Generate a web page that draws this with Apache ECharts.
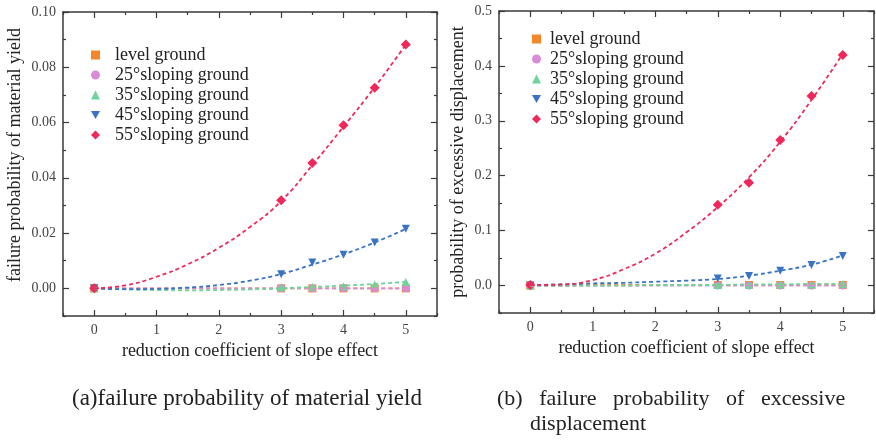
<!DOCTYPE html>
<html>
<head>
<meta charset="utf-8">
<script src="https://cdn.jsdelivr.net/npm/echarts@6/dist/echarts.min.js"></script>
<style>
  html, body { margin: 0; padding: 0; background: #fff; }
  #chart { width: 876px; height: 440px; }
</style>
</head>
<body>
<div id="chart"></div>
<script>
// measured x positions of the markers and of the fitted curves
const xPts = [0, 3, 3.5, 4, 4.5, 5];
const fitX = [0, 0.5, 1, 1.5, 2, 2.5, 3, 3.5, 4, 4.5, 5];

const names = ['level ground', '25°sloping ground', '35°sloping ground', '45°sloping ground', '55°sloping ground'];
const colors = ['#f5862a', '#d98bd6', '#6fd39a', '#3a73c4', '#f0285a'];
const symbols = ['rect', 'circle', 'triangle', 'path://M0,0 L10,0 L5,9 Z', 'diamond'];

// (a) material yield
const aLevel = [0, 0, 0, 0, 0, 0];
const a25 = [0, 0, 0, 0, 0, 0];
const a35 = [0, 0.0004, 0.0006, 0.0008, 0.0014, 0.0023];
const a45 = [0, 0.0051, 0.0094, 0.0122, 0.0166, 0.0216];
const a55 = [0, 0.0319, 0.0454, 0.059, 0.0726, 0.0882];

const aLevelFit = [0, 0, 0, 0, 0, 0, 0, 0, 0, 0, 0];
const a25Fit = [0, 0, 0, 0, 0, 0, 0, 0, 0, 0, 0];
const a35Fit = [0, -0.0004, -0.0006, -0.0007, -0.0006, -0.0004, 0, 0.0005, 0.001, 0.0016, 0.0024];
const a45Fit = [0, -0.0003, -0.0002, 0.0003, 0.0012, 0.0028, 0.0052, 0.0086, 0.0123, 0.0166, 0.0215];
const a55Fit = [0, 0.0011, 0.0042, 0.0087, 0.0147, 0.0222, 0.0316, 0.0446, 0.0585, 0.0728, 0.0882];

// (b) excessive displacement
const bLevel = [0, 0.001, 0.001, 0.001, 0.001, 0.001];
const b25 = [0, 0, 0, 0, 0, 0];
const b35 = [0, 0.001, 0.001, 0.002, 0.002, 0.003];
const b45 = [0, 0.013, 0.0175, 0.027, 0.0375, 0.054];
const b55 = [0.001, 0.147, 0.187, 0.265, 0.345, 0.42];

const bLevelFit = [0, 0, 0.001, 0.001, 0.001, 0.001, 0.001, 0.001, 0.001, 0.001, 0.001];
const b25Fit = [0, 0, 0, 0, 0, 0, 0, 0, 0, 0, 0];
const b35Fit = [0, 0, 0, 0, 0.001, 0.001, 0.001, 0.002, 0.002, 0.003, 0.003];
const b45Fit = [0.001, 0.002, 0.004, 0.005, 0.007, 0.009, 0.012, 0.018, 0.027, 0.038, 0.055];
const b55Fit = [0.001, 0.002, 0.01, 0.03, 0.058, 0.097, 0.143, 0.197, 0.262, 0.338, 0.422];

// tick positions
const xMajor = [0, 1, 2, 3, 4, 5];
const xMinor = [-0.5, 0.5, 1.5, 2.5, 3.5, 4.5, 5.5];
const aMajor = [0, 0.02, 0.04, 0.06, 0.08, 0.1];
const aMinor = [-0.01, 0.01, 0.03, 0.05, 0.07, 0.09];
const bMajor = [0, 0.1, 0.2, 0.3, 0.4, 0.5];
const bMinor = [-0.05, 0.05, 0.15, 0.25, 0.35, 0.45];

const serif = 'Liberation Serif';
const lineColor = '#3a3a3a';

function makeAxis(grid, position, min, max, ticks, len, showLine, label, name) {
  const ax = {
    type: 'value', gridIndex: grid, position: position, min: min, max: max,
    axisLine: { show: showLine, onZero: false, lineStyle: { color: lineColor, width: 1.5 } },
    axisTick: { show: true, inside: true, length: len, customValues: ticks, lineStyle: { color: lineColor, width: 1.2 } },
    axisLabel: { show: false },
    splitLine: { show: false }
  };
  if (label) {
    ax.axisLabel = {
      show: true, customValues: ticks, formatter: label, margin: 7,
      fontFamily: serif, fontSize: 14, color: '#444'
    };
  }
  if (name) {
    ax.name = name.text;
    ax.nameLocation = 'middle';
    ax.nameGap = name.gap;
    ax.nameTextStyle = { fontFamily: serif, fontSize: 18, color: '#222', padding: name.pad || 0 };
  }
  return ax;
}

const xName = 'reduction coefficient of slope effect';
const xAxes = [];
const yAxes = [];
[0, 1].forEach(function (g) {
  xAxes.push(makeAxis(g, 'bottom', -0.5, 5.5, xMajor, 6, true, function (v) { return String(v); }, { text: xName, gap: g === 0 ? 25 : 26 }));
  xAxes.push(makeAxis(g, 'bottom', -0.5, 5.5, xMinor, 3, false));
  xAxes.push(makeAxis(g, 'top', -0.5, 5.5, xMajor, 6, true));
  xAxes.push(makeAxis(g, 'top', -0.5, 5.5, xMinor, 3, false));
});
yAxes.push(makeAxis(0, 'left', -0.01, 0.1, aMajor, 6, true, function (v) { return v.toFixed(2); },
  { text: 'failure probability of material yield', gap: 39, pad: [0, 0, 0, 18] }));
yAxes.push(makeAxis(0, 'left', -0.01, 0.1, aMinor, 3, false));
yAxes.push(makeAxis(0, 'right', -0.01, 0.1, aMajor, 6, true));
yAxes.push(makeAxis(0, 'right', -0.01, 0.1, aMinor, 3, false));
yAxes.push(makeAxis(1, 'left', -0.05, 0.5, bMajor, 6, true, function (v) { return v.toFixed(1); },
  { text: 'probability of excessive displacement', gap: 32 }));
yAxes.push(makeAxis(1, 'left', -0.05, 0.5, bMinor, 3, false));
yAxes.push(makeAxis(1, 'right', -0.05, 0.5, bMajor, 6, true));
yAxes.push(makeAxis(1, 'right', -0.05, 0.5, bMinor, 3, false));

function pairs(xs, ys) {
  return xs.map(function (x, i) { return [x, ys[i]]; });
}

const series = [];
function addPanel(grid, pts, fits) {
  const xi = grid * 4;
  const yi = grid * 4;
  fits.forEach(function (f, i) {
    series.push({
      name: names[i] + ' fit', type: 'line', xAxisIndex: xi, yAxisIndex: yi,
      data: pairs(fitX, f), smooth: true, symbol: 'none', silent: true,
      lineStyle: { color: colors[i], width: 1.8, type: [4, 3] }
    });
  });
  pts.forEach(function (p, i) {
    series.push({
      name: names[i], type: 'scatter', xAxisIndex: xi, yAxisIndex: yi,
      data: pairs(xPts, p), symbol: symbols[i], symbolSize: i === 4 ? 10 : 8,
      itemStyle: { color: colors[i], opacity: 1 }
    });
  });
}
addPanel(0, [aLevel, a25, a35, a45, a55], [aLevelFit, a25Fit, a35Fit, a45Fit, a55Fit]);
addPanel(1, [bLevel, b25, b35, b45, b55], [bLevelFit, b25Fit, b35Fit, b45Fit, b55Fit]);

function legendAt(left, top, gap) {
  return {
    data: names, orient: 'vertical', left: left, top: top, padding: 0,
    itemWidth: 9, itemHeight: 9, itemGap: 0, selectedMode: false,
    textStyle: { fontFamily: serif, fontSize: 18, color: '#222', lineHeight: 20, padding: [0, 0, 0, gap] }
  };
}

const captionStyle = { fontFamily: serif, fontSize: 22, fontWeight: 'normal', color: '#222' };

const chart = echarts.init(document.getElementById('chart'));
chart.setOption({
  animation: false,
  title: [
    { text: '(a)failure probability of material yield', left: 72, top: 387, padding: 0,
      textStyle: Object.assign({}, captionStyle, { fontSize: 23 }) },
    { text: '(b)   failure   probability   of   excessive', left: 497, top: 388, padding: 0, textStyle: captionStyle },
    { text: 'displacement', left: 530, top: 413, padding: 0, textStyle: captionStyle }
  ],
  legend: [legendAt(91, 45, 10), legendAt(532, 29, 4)],
  grid: [
    { left: 63, top: 12, width: 374, height: 304 },
    { left: 499, top: 11, width: 375, height: 302 }
  ],
  xAxis: xAxes,
  yAxis: yAxes,
  series: series
});
</script>
</body>
</html>
